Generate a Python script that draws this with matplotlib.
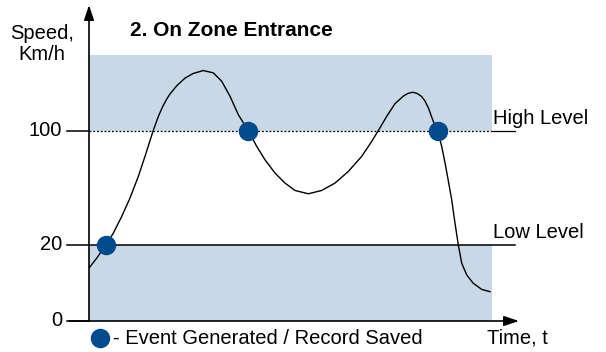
import numpy as np
import matplotlib.pyplot as plt

# speed curve read at points along the time axis
t = [0.0, 0.77, 1.7, 2.43, 3.27, 4.1, 4.93, 5.6, 6.42, 6.93, 7.35, 7.77, 8.1, 8.77,
     9.6, 10.43, 11.43, 12.43, 13.27, 14.1, 14.93, 15.93, 16.77, 17.6, 18.6, 19.6, 20.6,
     21.93, 23.27, 24.6, 25.93, 27.27, 28.27, 28.93, 29.77, 30.6, 31.43, 31.9, 32.37,
     32.8, 33.27, 33.6, 33.93, 34.43, 34.87, 35.27, 35.6, 35.93, 36.27, 36.6, 36.93,
     37.27, 37.77, 38.43, 39.27, 40.1]
speed = [13.9, 16.5, 20, 28.2, 39.9, 52.8, 67.9, 82.0, 100, 109.9, 116.6, 122.1,
         125.7, 131.4, 136.8, 140.1, 142.1, 140.5, 134.6, 124.1, 111.2, 100, 89.0, 79.6,
         70.3, 63.3, 58.1, 55.8, 58.1, 63.3, 71.4, 82.0, 92.5, 100, 110.0, 118.9, 124.2,
         126.1, 126.9, 126.1, 123.9, 120.7, 116.1, 106.5, 100, 89.0, 77.5, 64.9, 51.6,
         35.2, 20, 15.2, 12.1, 9.9, 8.3, 7.7]

# events: where the speed crosses a level
event_t = [1.7, 15.93, 34.87]
event_v = [20, 100, 100]

low_level = 20
high_level = 100
yticks = [0, 20, 100]
zone_end = 40.3
zone_top = 153

shade = '#c8d8e6'
dot = '#004b8d'

plt.rcParams['font.family'] = ['Liberation Sans', 'DejaVu Sans']
fs = 14.5


# stretched speed axis: 0-20 gets more room per unit than 20-100
def fwd(v):
    v = np.asarray(v, dtype=float)
    return np.where(v <= 20, v * 76 / 20, 76 + (v - 20) * 114 / 80)


def inv(h):
    h = np.asarray(h, dtype=float)
    return np.where(h <= 76, h * 20 / 76, 20 + (h - 76) * 80 / 114)


fig = plt.figure(figsize=(6.06, 3.52), dpi=100)
ax = fig.add_axes([89 / 606, 1 - 321 / 352, (492 - 89) / 606, (321 - 55) / 352])
ax.set_yscale('function', functions=(fwd, inv))
ax.set_xlim(0, zone_end)
ax.set_ylim(0, zone_top)
ax.axis('off')

# zone background: below low level and above high level
ax.fill_between([0, zone_end], 0, low_level, color=shade, lw=0, zorder=0)
ax.fill_between([0, zone_end], high_level, zone_top, color=shade, lw=0, zorder=0)

# level lines
ax.plot([0, zone_end], [high_level] * 2, color='black', lw=0.9, ls=(0, (1.5, 1.5)), zorder=2)
ax.plot([zone_end, 42.6], [high_level] * 2, color='black', lw=0.9, clip_on=False, zorder=2)
ax.plot([0, 42.6], [low_level] * 2, color='black', lw=1.1, clip_on=False, zorder=2)

# tick marks and labels
for v in yticks:
    ax.plot([-2.2, 0], [v, v], color='black', lw=1.1, clip_on=False)
    ax.text(-2.7, v, str(v), ha='right', va='center', fontsize=fs)

# axes with arrows
ax.annotate('', xy=(0, 188), xytext=(0, 0), annotation_clip=False,
            arrowprops=dict(arrowstyle='-|>,head_length=0.9,head_width=0.3',
                            color='black', lw=1.2, shrinkA=0, shrinkB=0))
ax.annotate('', xy=(43.0, 0), xytext=(-2.0, 0), annotation_clip=False,
            arrowprops=dict(arrowstyle='-|>,head_length=0.9,head_width=0.3',
                            color='black', lw=1.2, shrinkA=0, shrinkB=0))

# speed curve and events
ax.plot(t, speed, color='black', lw=1.0, zorder=3, solid_joinstyle='round')
ax.plot(event_t, event_v, 'o', ms=13, color=dot, zorder=4)

# labels
fig.text(42 / 606, 1 - 44 / 352, 'Speed,\nKm/h', ha='center', va='center',
         fontsize=fs, linespacing=1.15)
fig.text(130 / 606, 1 - 30 / 352, '2. On Zone Entrance', ha='left', va='center',
         fontsize=15, fontweight='bold')
fig.text(493 / 606, 1 - 118 / 352, 'High Level', ha='left', va='center', fontsize=fs)
fig.text(493 / 606, 1 - 232 / 352, 'Low Level', ha='left', va='center', fontsize=fs)
fig.text(487 / 606, 1 - 338 / 352, 'Time, t', ha='left', va='center', fontsize=fs)
fig.text(113 / 606, 1 - 338 / 352, '- Event Generated / Record Saved', ha='left',
         va='center', fontsize=fs)
fig.lines.append(plt.Line2D([100 / 606], [1 - 338 / 352], marker='o', ms=13, color=dot,
                            transform=fig.transFigure))

fig.savefig('out.png', dpi=100)
